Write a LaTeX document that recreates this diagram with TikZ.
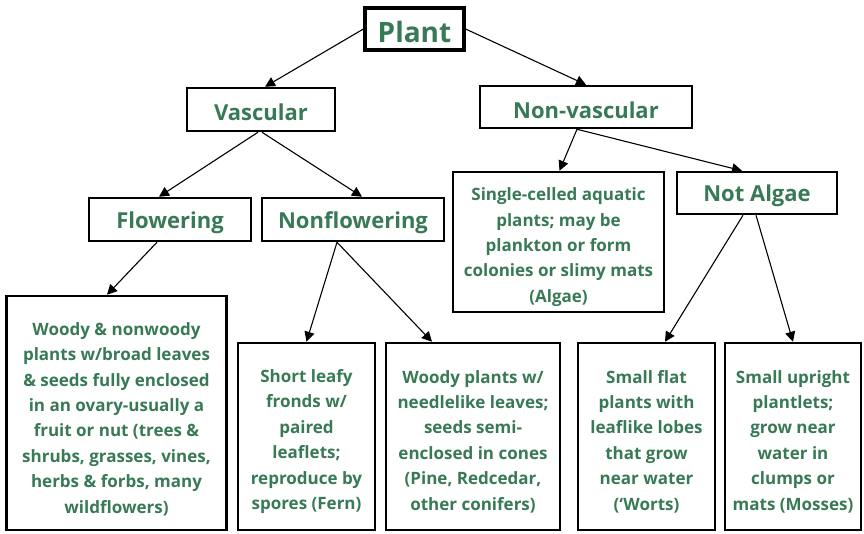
\documentclass[tikz,border=0pt]{standalone}
\usepackage{fontspec}
\setmainfont{Open Sans}
\usetikzlibrary{arrows.meta}
\definecolor{leaf}{RGB}{56,122,86}
\begin{document}
\begin{tikzpicture}[x=1pt,y=-1pt,
  frame/.style={draw=black,line width=2.5pt,fill=white,inner sep=0pt,anchor=center},
  htxt/.style={text=leaf,inner sep=0pt,anchor=center,font=\fontsize{22}{26}\selectfont\bfseries},
  btxt/.style={text=leaf,inner sep=0pt,anchor=center,align=center,font=\fontsize{17}{25.4}\selectfont\bfseries},
  arr/.style={-{Triangle[length=10pt,width=10pt]},line width=1.1pt}]
\useasboundingbox (0,0) rectangle (864,533);
% frames
\node[frame,line width=3.2pt,minimum width=99pt,minimum height=42pt] (plant) at (414.5,29) {};
\node[frame,minimum width=148pt,minimum height=43pt] (vasc) at (261,109.5) {};
\node[frame,minimum width=212pt,minimum height=42pt] (nonv) at (586,107) {};
\node[frame,minimum width=162pt,minimum height=43pt] (flow) at (170,219.5) {};
\node[frame,minimum width=182pt,minimum height=43pt] (nonf) at (353,219.5) {};
\node[frame,minimum width=211pt,minimum height=140pt] (alg) at (558.5,242) {};
\node[frame,minimum width=160pt,minimum height=42pt] (nota) at (757,193) {};
\node[frame,minimum width=220pt,minimum height=234pt] (woody) at (116.5,413) {};
\node[frame,minimum width=137pt,minimum height=187pt] (fern) at (306.5,436.5) {};
\node[frame,minimum width=174pt,minimum height=187pt] (conif) at (473,436.5) {};
\node[frame,minimum width=137pt,minimum height=187pt] (worts) at (646.5,436.5) {};
\node[frame,minimum width=136pt,minimum height=187pt] (moss) at (793,436.5) {};
% texts
\node[htxt,font=\fontsize{28}{32}\selectfont\bfseries] (plantT) at ([yshift=-3pt]plant.center) {Plant};
\node[htxt] (vascT) at ([yshift=-3pt]vasc.center) {Vascular};
\node[htxt] (nonvT) at ([yshift=-3pt]nonv.center) {Non-vascular};
\node[htxt] (flowT) at ([yshift=-3pt]flow.center) {Flowering};
\node[htxt] (nonfT) at ([yshift=-3pt]nonf.center) {Nonflowering};
\node[htxt] (notaT) at ([yshift=-3pt]nota.center) {Not Algae};
\node[btxt] (algT) at ([yshift=-5pt]alg.center) {Single-celled aquatic\\plants; may be\\plankton or form\\colonies or slimy mats\\(Algae)};
\node[btxt] (woodyT) at ([yshift=-6pt]woody.center) {Woody \& nonwoody\\plants w/broad leaves\\\& seeds fully enclosed\\in an ovary-usually a\\fruit or nut (trees \&\\shrubs, grasses, vines,\\herbs \& forbs, many\\wildflowers)};
\node[btxt] (fernT) at ([yshift=-5pt]fern.center) {Short leafy\\fronds w/\\paired\\leaflets;\\reproduce by\\spores (Fern)};
\node[btxt] (conifT) at ([yshift=-5pt]conif.center) {Woody plants w/\\needlelike leaves;\\seeds semi-\\enclosed in cones\\(Pine, Redcedar,\\other conifers)};
\node[btxt] (wortsT) at ([yshift=-5pt]worts.center) {Small flat\\plants with\\leaflike lobes\\that grow\\near water\\(‘Worts)};
\node[btxt] (mossT) at ([yshift=-5pt]moss.center) {Small upright\\plantlets;\\grow near\\water in\\clumps or\\mats (Mosses)};
% connectors
\draw[arr] (plant.west) -- ([xshift=4pt]vasc.north);
\draw[arr] (plant.east) -- (nonv.north);
\draw[arr] ([xshift=-3pt]vasc.south) -- ([xshift=-11pt]flow.north);
\draw[arr] ([xshift=1pt]vasc.south) -- ([xshift=9pt]nonf.north);
\draw[arr] ([xshift=-9pt]nonv.south) -- ([xshift=1pt]alg.north);
\draw[arr] ([xshift=-9pt]nonv.south) -- ([xshift=-15pt]nota.north);
\draw[arr] ([xshift=-13pt]flow.south) -- ([xshift=-9.5pt]woody.north);
\draw[arr] ([xshift=-16pt]nonf.south) -- (fern.north);
\draw[arr] ([xshift=-16pt]nonf.south) -- ([xshift=-41pt]conif.north);
\draw[arr] ([xshift=-14pt]nota.south) -- ([xshift=18.5pt]worts.north);
\draw[arr] ([xshift=-1pt]nota.south) -- (moss.north);
\end{tikzpicture}
\end{document}
